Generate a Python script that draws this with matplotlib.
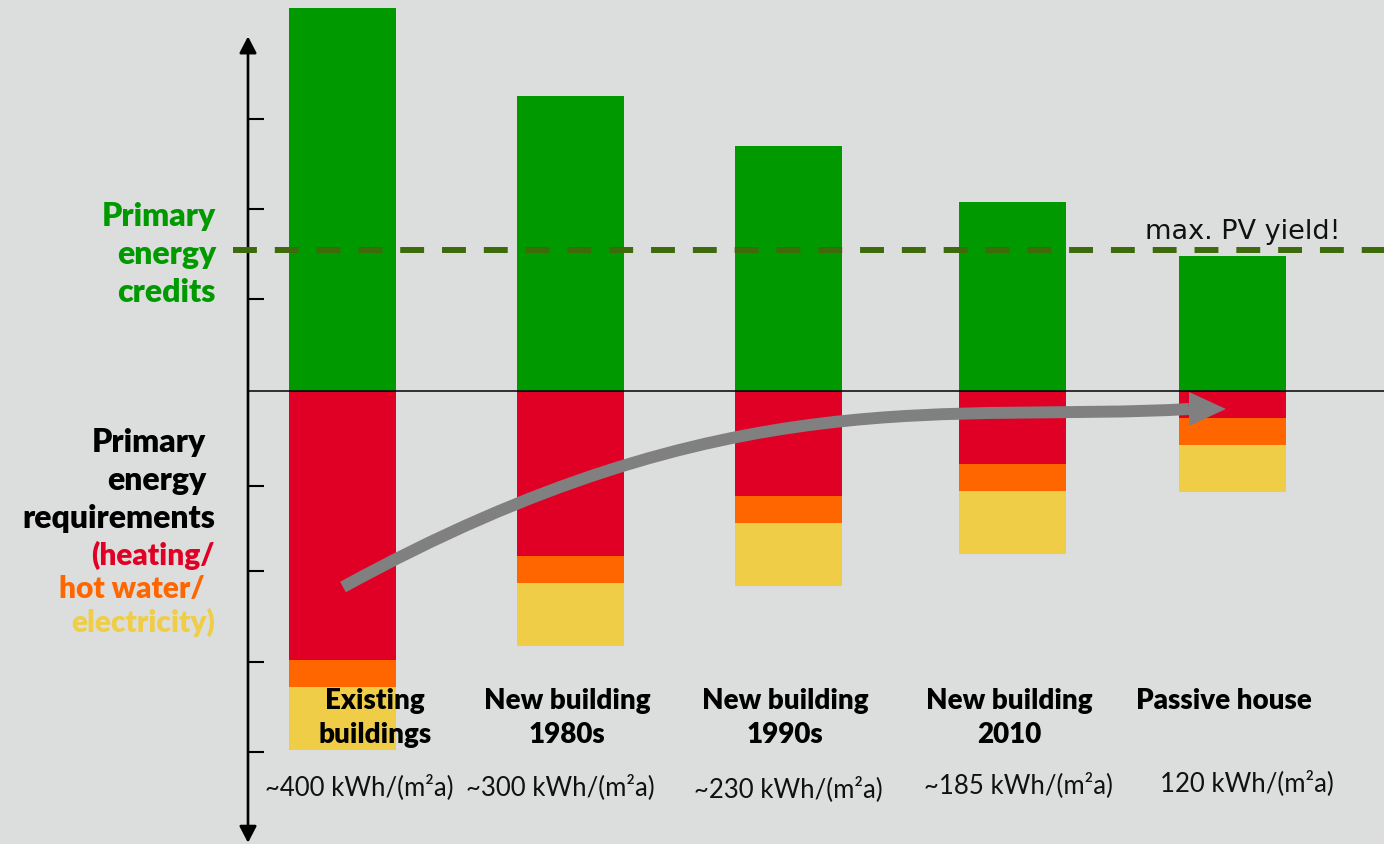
import numpy as np
import matplotlib
matplotlib.use('Agg')
import matplotlib.pyplot as plt
from matplotlib.path import Path
from matplotlib.patches import PathPatch, Polygon, FancyArrowPatch

plt.rcParams['font.family'] = ['Lato', 'DejaVu Sans']

# data (units: 100 = roughly one tick step of the sketched axis)
categories = ['Existing\nbuildings', 'New building\n1980s', 'New building\n1990s',
              'New building\n2010', 'Passive house']
demand_labels = ['~400 kWh/(m²a)', '~300 kWh/(m²a)', '~230 kWh/(m²a)',
                 '~185 kWh/(m²a)', '120 kWh/(m²a)']
credits = [425.6, 327.8, 272.2, 210.0, 150.0]
heating = [299.0, 183.3, 116.7, 81.1, 30.0]
hot_water = [30.0, 30.0, 30.0, 30.0, 30.0]
electricity = [70.0, 70.0, 70.0, 70.0, 52.0]
pv_max = 156.7
ticks = [302, 202, 102, -106, -200, -301, -401]

# layout
bar_x = [342, 570, 788, 1012, 1232]
label_x = [375, 567, 785, 1009, 1224]
value_x = [359, 560, 788, 1018, 1247]
value_y = [-448.9, -448.9, -451.1, -446.7, -444.4]
bar_w = 107
axis_x = 248

bg = '#dcdedd'
c_green = '#009a00'
c_red = '#e10025'
c_orange = '#ff6600'
c_yellow = '#efcd46'
c_dash = '#3d6a0a'

fig = plt.figure(figsize=(13.84, 8.44), dpi=100, facecolor=bg)
ax = fig.add_axes([0, 0, 1, 1])
ax.set_facecolor(bg)
ax.set_xlim(0, 1384)
ax.set_ylim(-(844 - 391) / 0.9, 391 / 0.9)
ax.axis('off')

heating_n = -np.array(heating)
hot_n = -np.array(hot_water)
elec_n = -np.array(electricity)

ax.bar(bar_x, credits, width=bar_w, color=c_green, zorder=2)
ax.bar(bar_x, heating_n, width=bar_w, color=c_red, zorder=2)
ax.bar(bar_x, hot_n, bottom=heating_n, width=bar_w, color=c_orange, zorder=2)
ax.bar(bar_x, elec_n, bottom=heating_n + hot_n, width=bar_w, color=c_yellow, zorder=2)

# zero line
ax.plot([axis_x, 1384], [0, 0], color='black', lw=1.1, zorder=3)

# vertical axis with arrows both ways
ax.add_patch(FancyArrowPatch((axis_x, -502), (axis_x, 394),
                             arrowstyle='<|-|>,head_length=10,head_width=5.2',
                             mutation_scale=1, lw=1.9, color='black',
                             shrinkA=0, shrinkB=0, zorder=3))
ax.hlines(ticks, axis_x, axis_x + 16, color='black', lw=1.5, zorder=3)

# PV line
ax.plot([233, 1384], [pv_max, pv_max], color=c_dash, lw=4.3,
        linestyle=(0, (4, 3)), dash_capstyle='butt', zorder=4)
ax.text(1243, 168.9, 'max. PV yield!', fontsize=19.5, family='DejaVu Sans',
        ha='center', va='baseline', color='#111111', zorder=5)

# grey trend arrow
verts = [(343, -217.8), (730, 18.0), (950, -35.0), (1189, -20.0)]
codes = [Path.MOVETO, Path.CURVE4, Path.CURVE4, Path.CURVE4]
ax.add_patch(PathPatch(Path(verts, codes), facecolor='none', edgecolor='#808080',
                       lw=8.6, capstyle='butt', zorder=6))
ax.add_patch(Polygon([(1189, -1.1), (1226, -20.0), (1189, -38.9)],
                     closed=True, color='#808080', lw=0, zorder=6))

# left annotations
for txt, y in zip(['Primary', 'energy', 'credits'], [183.3, 141.1, 98.9]):
    ax.text(216, y, txt, fontsize=23, fontweight='heavy', color=c_green,
            ha='right', va='baseline')
for txt, x, y in zip(['Primary', 'energy', 'requirements'], [206, 206, 215],
                     [-67.8, -110.0, -152.2]):
    ax.text(x, y, txt, fontsize=23, fontweight='heavy', color='black',
            ha='right', va='baseline')
for txt, x, y, c in zip(['(heating/', 'hot water/', 'electricity)'], [215, 205, 215],
                        [-193.3, -230.0, -267.8], [c_red, c_orange, c_yellow]):
    ax.text(x, y, txt, fontsize=21.5, fontweight='heavy', color=c, ha='right',
            va='baseline')

# category labels and demand values
for x, lab in zip(label_x, categories):
    for i, ln in enumerate(lab.split('\n')):
        ax.text(x, -353.3 - 37.8 * i, ln, fontsize=20, fontweight='heavy',
                color='black', ha='center', va='baseline', zorder=5)
for x, y, lab in zip(value_x, value_y, demand_labels):
    ax.text(x, y, lab, fontsize=18.5, color='#111111', ha='center', va='baseline')

fig.savefig('out.png', dpi=100, facecolor=bg)
